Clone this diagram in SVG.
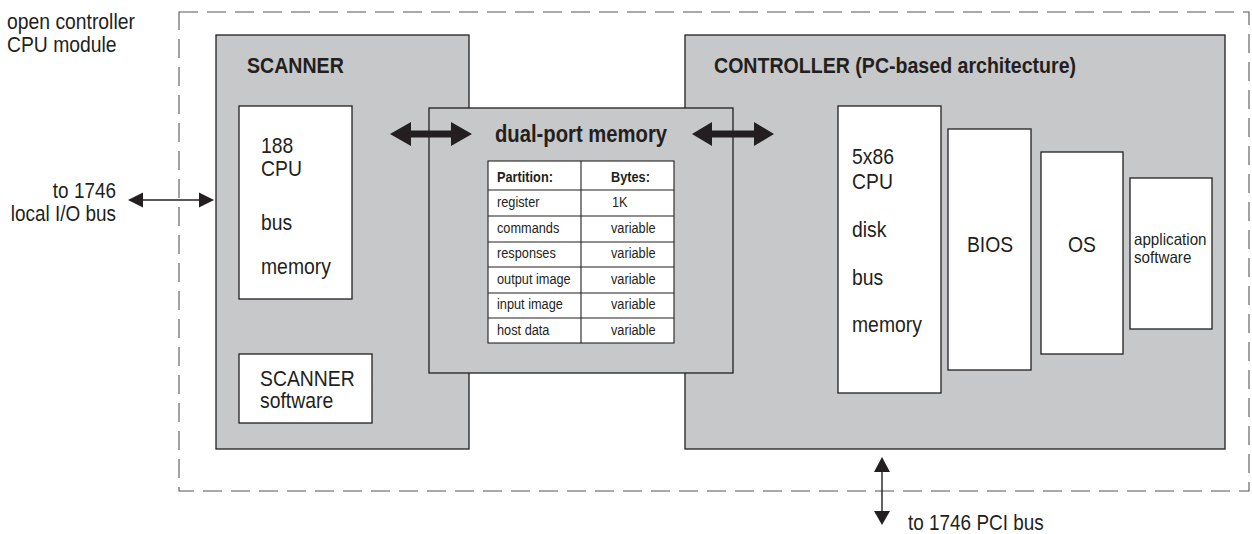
<svg xmlns="http://www.w3.org/2000/svg" width="1252" height="534" viewBox="0 0 1252 534">
  <defs>
    <style>
      .t { font-family: "Liberation Sans", Arial, sans-serif; fill: #231f20; }
      .lbl { font-size: 22px; }
      .out { font-size: 21.5px; }
      .hd { font-size: 22px; font-weight: bold; }
      .tb { font-size: 14.5px; }
      .tbh { font-size: 14.5px; font-weight: bold; }
      .sm { font-size: 16.5px; }
      .mid { text-anchor: middle; }
      .end { text-anchor: end; }
      .grey { fill: #c7c8ca; stroke: #231f20; stroke-width: 1.3; }
      .white { fill: #ffffff; stroke: #231f20; stroke-width: 1.3; }
      .grid { stroke: #231f20; stroke-width: 1.1; fill: none; }
      .thin { stroke: #231f20; stroke-width: 1.4; fill: none; }
      .head { fill: #231f20; }
    </style>
  </defs>

  <!-- module boundary -->
  <g id="module">
    <rect x="179" y="12" width="1070" height="479" fill="none" stroke="#555" stroke-width="1.1" stroke-dasharray="19 9"/>
    <text class="t out" transform="translate(7 29) scale(.9 1)">open controller</text>
    <text class="t out" transform="translate(7 52) scale(.9 1)">CPU module</text>
  </g>

  <!-- scanner -->
  <g id="scanner">
    <rect class="grey" x="216" y="35" width="253" height="414"/>
    <text class="t hd" transform="translate(247 73) scale(.89 1)">SCANNER</text>
  </g>
  <g id="scanner-cpu">
    <rect class="white" x="239" y="106" width="113" height="193"/>
    <text class="t lbl" transform="translate(261 153) scale(.88 1)">188</text>
    <text class="t lbl" transform="translate(261 176) scale(.88 1)">CPU</text>
    <text class="t lbl" transform="translate(261 230) scale(.88 1)">bus</text>
    <text class="t lbl" transform="translate(261 274) scale(.88 1)">memory</text>
  </g>
  <g id="scanner-software">
    <rect class="white" x="239" y="354" width="133" height="69"/>
    <text class="t lbl" transform="translate(260 386) scale(.88 1)">SCANNER</text>
    <text class="t lbl" transform="translate(260 408) scale(.88 1)">software</text>
  </g>

  <!-- controller -->
  <g id="controller">
    <rect class="grey" x="685" y="35" width="540" height="414"/>
    <text class="t hd" transform="translate(714 73) scale(.89 1)">CONTROLLER (PC-based architecture)</text>
  </g>
  <g id="controller-cpu">
    <rect class="white" x="838" y="106" width="103" height="287"/>
    <text class="t lbl" transform="translate(852 164) scale(.88 1)">5x86</text>
    <text class="t lbl" transform="translate(852 189) scale(.88 1)">CPU</text>
    <text class="t lbl" transform="translate(852 237) scale(.88 1)">disk</text>
    <text class="t lbl" transform="translate(852 285) scale(.88 1)">bus</text>
    <text class="t lbl" transform="translate(852 332) scale(.88 1)">memory</text>
  </g>
  <g id="bios">
    <rect class="white" x="948" y="129" width="83" height="241"/>
    <text class="t lbl mid" transform="translate(990 252) scale(.88 1)">BIOS</text>
  </g>
  <g id="os">
    <rect class="white" x="1041" y="152" width="82" height="202"/>
    <text class="t lbl mid" transform="translate(1082 252) scale(.88 1)">OS</text>
  </g>
  <g id="application">
    <rect class="white" x="1130" y="178" width="82" height="151"/>
    <text class="t sm" transform="translate(1134 245) scale(.92 1)">application</text>
    <text class="t sm" transform="translate(1134 263) scale(.92 1)">software</text>
  </g>

  <!-- dual-port memory -->
  <g id="dual-port-memory">
    <rect class="grey" x="429" y="108" width="304" height="265"/>
    <text class="t hd mid" transform="translate(581 142) scale(.88 1)" style="font-size:23px">dual-port memory</text>
    <rect x="488" y="161" width="186" height="182" fill="#ffffff" stroke="#231f20" stroke-width="1.1"/>
    <path class="grid" d="M581 161V343 M488 190H674 M488 216H674 M488 242H674 M488 267H674 M488 293H674 M488 318H674"/>
    <text class="t tbh" transform="translate(497 182) scale(.88 1)">Partition:</text>
    <text class="t tbh" transform="translate(611 182) scale(.88 1)">Bytes:</text>
    <text class="t tb" transform="translate(497 207) scale(.88 1)">register</text>
    <text class="t tb" transform="translate(612 207) scale(.88 1)">1K</text>
    <text class="t tb" transform="translate(497 233) scale(.88 1)">commands</text>
    <text class="t tb" transform="translate(611 233) scale(.88 1)">variable</text>
    <text class="t tb" transform="translate(497 258) scale(.88 1)">responses</text>
    <text class="t tb" transform="translate(611 258) scale(.88 1)">variable</text>
    <text class="t tb" transform="translate(497 284) scale(.88 1)">output image</text>
    <text class="t tb" transform="translate(611 284) scale(.88 1)">variable</text>
    <text class="t tb" transform="translate(497 309) scale(.88 1)">input image</text>
    <text class="t tb" transform="translate(611 309) scale(.88 1)">variable</text>
    <text class="t tb" transform="translate(497 335) scale(.88 1)">host data</text>
    <text class="t tb" transform="translate(611 335) scale(.88 1)">variable</text>
  </g>

  <!-- external labels -->
  <g id="local-io-label">
    <text class="t out end" transform="translate(116 198) scale(.88 1)">to 1746</text>
    <text class="t out end" transform="translate(116 221) scale(.88 1)">local I/O bus</text>
  </g>
  <g id="pci-label">
    <text class="t out" transform="translate(908 530) scale(.88 1)">to 1746 PCI bus</text>
  </g>

  <!-- connectors -->
  <g id="connectors">
    <!-- scanner <-> dual-port memory -->
    <polygon class="head" points="390,134 411,122 411,130.5 451,130.5 451,122 472,134 451,146 451,137.5 411,137.5 411,146"/>
    <!-- dual-port memory <-> controller -->
    <polygon class="head" points="692,134 712,122 712,130.5 754,130.5 754,122 774,134 754,146 754,137.5 712,137.5 712,146"/>
    <!-- local I/O bus -->
    <line class="thin" x1="140" y1="200" x2="202" y2="200"/>
    <polygon class="head" points="128,200 143,192.5 143,207.5"/>
    <polygon class="head" points="214,200 199,192.5 199,207.5"/>
    <!-- PCI bus -->
    <line class="thin" x1="882" y1="470" x2="882" y2="513"/>
    <polygon class="head" points="882,457 874,472 890,472"/>
    <polygon class="head" points="882,525 874,511 890,511"/>
  </g>
</svg>
